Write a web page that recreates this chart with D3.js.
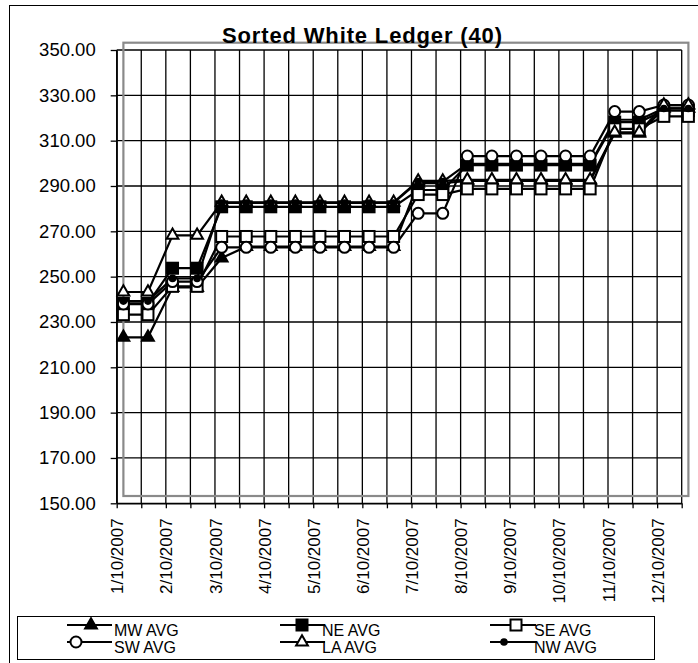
<!DOCTYPE html>
<html>
<head>
<meta charset="utf-8">
<script src="https://cdn.jsdelivr.net/npm/d3@7"></script>
<style>
  body { margin: 0; background: #fff; }
  text { font-family: "Liberation Sans", Arial, sans-serif; }
</style>
</head>
<body>
<div id="chart"></div>
<script>
// Month labels shown on every other point of the category axis
const tickLabels = ["1/10/2007", "2/10/2007", "3/10/2007", "4/10/2007", "5/10/2007", "6/10/2007",
                    "7/10/2007", "8/10/2007", "9/10/2007", "10/10/2007", "11/10/2007", "12/10/2007"];
const periods = d3.range(24);
const yTicks = [150, 170, 190, 210, 230, 250, 270, 290, 310, 330, 350];

// Series values
const mwAvg = [220, 220, 242, 242, 255, 260, 260, 260, 260, 260, 260, 260,
               288, 288, 289, 289, 289, 289, 289, 289, 310, 310, 321, 321];
const neAvg = [235, 235, 250.5, 250.5, 277.6, 277.6, 277.6, 277.6, 277.6, 277.6, 277.6, 277.6,
               285, 285, 296, 296, 296, 296, 296, 296, 315, 315, 320, 320];
const seAvg = [230, 230, 242.5, 242.5, 264.5, 264.5, 264.5, 264.5, 264.5, 264.5, 264.5, 264.5,
               283, 283, 285.5, 285.5, 285.5, 285.5, 285.5, 285.5, 312, 312, 317.5, 317.5];
const swAvg = [234.7, 234.7, 244.6, 244.6, 259.7, 259.7, 259.7, 259.7, 259.7, 259.7, 259.7, 259.7,
               274.7, 274.7, 300, 300, 300, 300, 300, 300, 319.6, 319.6, 322.5, 322.5];
const laAvg = [240, 240, 265, 265, 279.6, 279.6, 279.6, 279.6, 279.6, 279.6, 279.6, 279.6,
               289, 289, 289.5, 289.5, 289.5, 289.5, 289.5, 289.5, 310.5, 310.5, 322.5, 322.5];
const nwAvg = [236, 236, 246, 246, 279.3, 279.3, 279.3, 279.3, 279.3, 279.3, 279.3, 279.3,
               288.7, 288.7, 296.5, 296.5, 296.5, 296.5, 296.5, 296.5, 316, 316, 321, 321];

const series = [
  {name: "MW AVG", values: mwAvg, marker: "triFill"},
  {name: "NE AVG", values: neAvg, marker: "sqFill"},
  {name: "SE AVG", values: seAvg, marker: "sqOpen"},
  {name: "SW AVG", values: swAvg, marker: "circOpen"},
  {name: "LA AVG", values: laAvg, marker: "triOpen"},
  {name: "NW AVG", values: nwAvg, marker: "dot"}
];

const width = 698, height = 663;
const plot = {left: 116.7, right: 681.7, top: 50, bottom: 503.3};
// the series layer sits a few pixels off the axes, as in the original
const shift = {x: 6.7, y: -7.3};

const svg = d3.select("#chart").append("svg")
    .attr("width", width)
    .attr("height", height);

// outer chart border (runs off the right and bottom edges)
svg.append("rect")
   .attr("x", 9.5).attr("y", 5.5)
   .attr("width", 720).attr("height", 700)
   .attr("fill", "none").attr("stroke", "#000").attr("stroke-width", 1);

const x = d3.scalePoint().domain(periods).range([plot.left, plot.right]);
const y = d3.scaleLinear().domain([150, 350]).range([plot.bottom, plot.top]);

// gridlines
const grid = svg.append("g").attr("stroke", "#000").attr("stroke-width", 1.3);
grid.selectAll(".hg").data(yTicks).enter().append("line")
    .attr("x1", plot.left).attr("x2", plot.right)
    .attr("y1", d => y(d)).attr("y2", d => y(d));
grid.selectAll(".vg").data(periods).enter().append("line")
    .attr("x1", d => x(d)).attr("x2", d => x(d))
    .attr("y1", plot.top).attr("y2", plot.bottom);

// Y axis
const yAxis = svg.append("g")
    .attr("transform", `translate(${plot.left},0)`)
    .call(d3.axisLeft(y).tickValues(yTicks).tickSize(6).tickSizeOuter(0)
            .tickPadding(15).tickFormat(d3.format(".2f")));
yAxis.selectAll("line, path").attr("stroke", "#000").attr("stroke-width", 1.3);
yAxis.selectAll("text").style("font-size", "18.5px").attr("fill", "#000");

// X axis
const xAxis = svg.append("g")
    .attr("transform", `translate(0,${plot.bottom})`)
    .call(d3.axisBottom(x).tickSize(5).tickSizeOuter(0)
            .tickFormat(i => i % 2 === 0 ? tickLabels[i / 2] : ""));
xAxis.selectAll("line, path").attr("stroke", "#000").attr("stroke-width", 1.3);
xAxis.selectAll("text")
     .style("font-size", "17px").attr("fill", "#000")
     .attr("transform", "rotate(-90)")
     .attr("text-anchor", "end")
     .attr("x", -15).attr("y", 0).attr("dy", "0.36em");

// series layer
const layer = svg.append("g").attr("transform", `translate(${shift.x},${shift.y})`);

// plot area frame
layer.append("rect")
     .attr("x", x(0)).attr("y", y(350))
     .attr("width", x(23) - x(0)).attr("height", y(150) - y(350))
     .attr("fill", "none").attr("stroke", "#8a8a8a").attr("stroke-width", 2.2);

const line = d3.line().x((d, i) => x(i)).y(d => y(d));

series.forEach(s => {
  layer.append("path")
       .datum(s.values)
       .attr("d", line)
       .attr("fill", "none").attr("stroke", "#000").attr("stroke-width", 2.2);
});

function drawMarker(g, kind) {
  if (kind === "triFill" || kind === "triOpen") {
    g.append("path").attr("d", d3.symbol(d3.symbolTriangle, 60)())
     .attr("fill", kind === "triFill" ? "#000" : "#fff")
     .attr("stroke", "#000").attr("stroke-width", 2);
  } else if (kind === "sqFill" || kind === "sqOpen") {
    g.append("rect").attr("x", -5.5).attr("y", -5.5).attr("width", 11).attr("height", 11)
     .attr("fill", kind === "sqFill" ? "#000" : "#fff")
     .attr("stroke", "#000").attr("stroke-width", 2);
  } else if (kind === "circOpen") {
    g.append("circle").attr("r", 5.5)
     .attr("fill", "#fff").attr("stroke", "#000").attr("stroke-width", 2);
  } else {
    g.append("circle").attr("r", 3.8).attr("fill", "#000");
  }
}

series.forEach(s => {
  layer.selectAll(null)
       .data(s.values)
       .enter()
       .append("g")
       .attr("transform", (d, i) => `translate(${x(i)},${y(d)})`)
       .each(function() { drawMarker(d3.select(this), s.marker); });
});

// title
svg.append("text")
   .attr("x", 362).attr("y", 43)
   .attr("text-anchor", "middle")
   .attr("textLength", 280).attr("lengthAdjust", "spacing")
   .style("font-size", "22px").style("font-weight", "bold")
   .text("Sorted White Ledger (40)");

// legend
const legendBox = {x: 17.5, y: 616.5, w: 637, h: 43};
svg.append("rect")
   .attr("x", legendBox.x).attr("y", legendBox.y)
   .attr("width", legendBox.w).attr("height", legendBox.h)
   .attr("fill", "#fff").attr("stroke", "#000").attr("stroke-width", 1);

const legendCols = [{x1: 67, x2: 112, text: 114}, {x1: 280, x2: 325, text: 322}, {x1: 490, x2: 536, text: 534}];
const legendRows = [{line: 625, base: 636}, {line: 642, base: 653}];
const markerX = [[91, 302, 516], [76, 302, 504]];

series.forEach((s, k) => {
  const row = Math.floor(k / 3), col = k % 3;
  const c = legendCols[col], r = legendRows[row];
  const g = svg.append("g");
  g.append("line")
   .attr("x1", c.x1).attr("x2", c.x2)
   .attr("y1", r.line).attr("y2", r.line)
   .attr("stroke", "#000").attr("stroke-width", 2);
  const m = g.append("g").attr("transform", `translate(${markerX[row][col]},${r.line})`);
  drawMarker(m, s.marker);
  g.append("text")
   .attr("x", c.text).attr("y", r.base)
   .style("font-size", "16px")
   .text(s.name);
});
</script>
</body>
</html>
